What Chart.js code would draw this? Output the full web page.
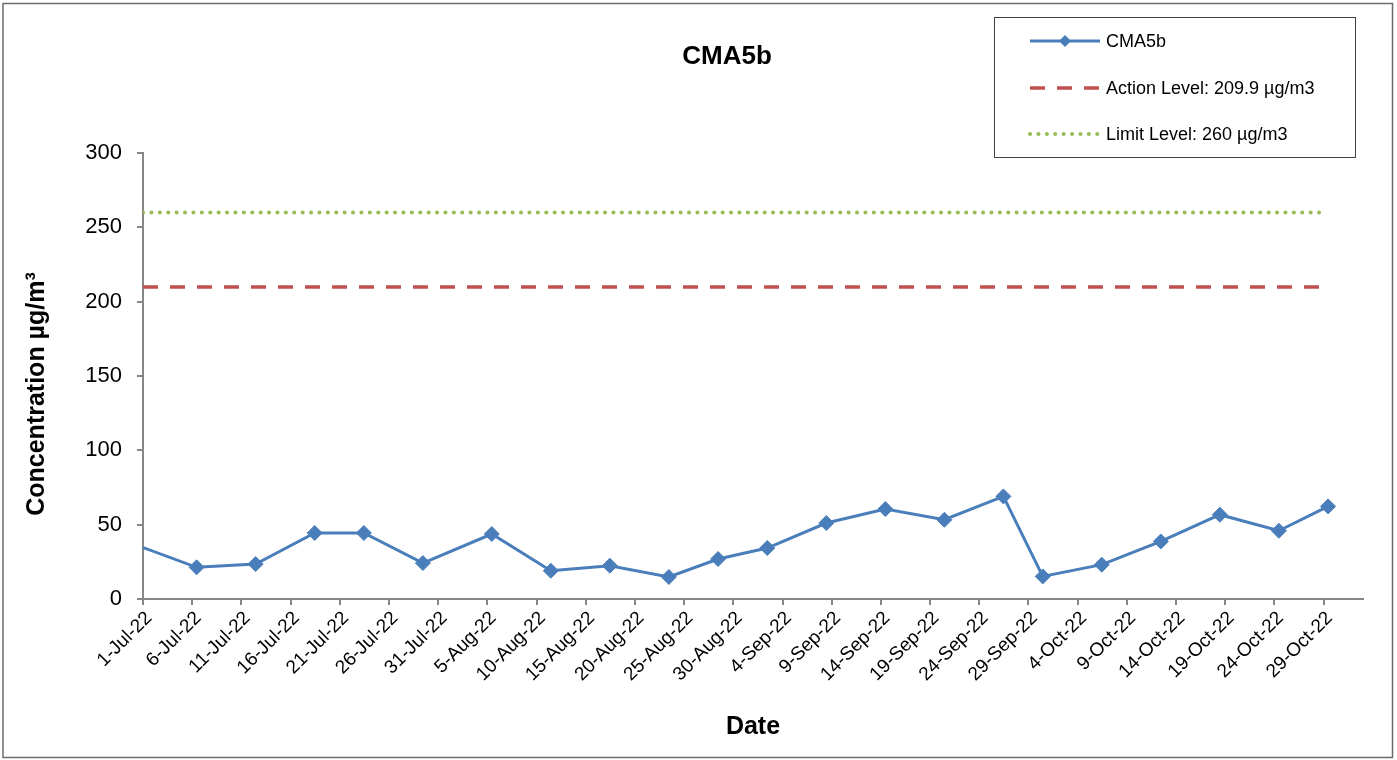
<!DOCTYPE html>
<html>
<head>
<meta charset="utf-8">
<title>CMA5b</title>
<script src="https://cdn.jsdelivr.net/npm/chart.js@4.4.1/dist/chart.umd.min.js"></script>
<style>
  html, body { margin: 0; padding: 0; background: #fff; }
  #wrap { position: relative; width: 1397px; height: 760px; }
</style>
</head>
<body>
<div id="wrap"><canvas id="chart" width="1397" height="760"></canvas></div>
<script>
// sample dates and CMA5b readings (µg/m3)
const sampleDates = [
  '2022-06-30', '2022-07-06', '2022-07-12', '2022-07-18', '2022-07-23', '2022-07-29',
  '2022-08-05', '2022-08-11', '2022-08-17', '2022-08-23', '2022-08-28', '2022-09-02',
  '2022-09-08', '2022-09-14', '2022-09-20', '2022-09-26', '2022-09-30', '2022-10-06',
  '2022-10-12', '2022-10-18', '2022-10-24', '2022-10-29',
]
const cma5bValues = [
  36, 21.3, 23.5, 44.4, 44.4, 24.2,
  43.7, 19.0, 22.4, 14.8, 26.9, 34.3,
  51.1, 60.5, 53.3, 69.0, 15.2, 23.1,
  38.7, 56.7, 45.9, 62.3,
]

// levels
const actionLevel = 209.9
const limitLevel = 260

// axis
const xTickLabels = [
  '1-Jul-22', '6-Jul-22', '11-Jul-22', '16-Jul-22', '21-Jul-22', '26-Jul-22', '31-Jul-22',
  '5-Aug-22', '10-Aug-22', '15-Aug-22', '20-Aug-22', '25-Aug-22', '30-Aug-22',
  '4-Sep-22', '9-Sep-22', '14-Sep-22', '19-Sep-22', '24-Sep-22', '29-Sep-22',
  '4-Oct-22', '9-Oct-22', '14-Oct-22', '19-Oct-22', '24-Oct-22', '29-Oct-22',
]
const axisEndDate = '2022-11-02'
const yTicks = [0, 50, 100, 150, 200, 250, 300]

const seriesNames = ['CMA5b', 'Action Level: 209.9 µg/m3', 'Limit Level: 260 µg/m3']

const FONT = 'Arial, "Liberation Sans", sans-serif'
const MONTHS = { Jan: 0, Feb: 1, Mar: 2, Apr: 3, May: 4, Jun: 5, Jul: 6, Aug: 7, Sep: 8, Oct: 9, Nov: 10, Dec: 11 }
const DAY = 86400000
const startMs = Date.UTC(2022, 6, 1)
// excel date axis puts each point in the middle of its day
const dayCentre = 0.45

const isoDay = (iso) => (Date.parse(iso) - startMs) / DAY
const labelDay = (lbl) => {
  const [d, m, y] = lbl.split('-')
  return (Date.UTC(2000 + Number(y), MONTHS[m], Number(d)) - startMs) / DAY
}

const tickDays = xTickLabels.map(labelDay)
const firstDay = tickDays[0]
const lastDay = tickDays[tickDays.length - 1]

const cmaPoints = sampleDates.map((d, i) => ({ x: isoDay(d) + dayCentre, y: cma5bValues[i] }))
const levelLine = (v) => [{ x: firstDay, y: v }, { x: lastDay, y: v }]

// title, y title, legend box and outer frame
const decorations = {
  id: 'decorations',
  afterDraw(chart) {
    const { ctx } = chart
    ctx.save()

    ctx.strokeStyle = '#6b6b6b'
    ctx.lineWidth = 1.5
    ctx.strokeRect(3, 3.5, 1389.5, 754)

    ctx.fillStyle = '#000'
    ctx.font = `bold 26px ${FONT}`
    ctx.textAlign = 'center'
    ctx.textBaseline = 'middle'
    ctx.fillText('CMA5b', 727, 57)

    ctx.save()
    ctx.translate(37, 394)
    ctx.rotate(-Math.PI / 2)
    ctx.font = `bold 25px ${FONT}`
    ctx.fillText('Concentration µg/m³', 0, 0)
    ctx.restore()

    // legend
    ctx.strokeStyle = '#404040'
    ctx.lineWidth = 1
    ctx.strokeRect(994.5, 17.5, 361, 140)
    const rows = [41, 88, 134]
    chart.data.datasets.forEach((ds, i) => {
      const y = rows[i]
      ctx.save()
      ctx.strokeStyle = ds.borderColor
      ctx.lineWidth = ds.borderWidth
      ctx.lineCap = ds.borderCapStyle || 'butt'
      ctx.setLineDash(ds.borderDash || [])
      ctx.beginPath()
      ctx.moveTo(1030, y)
      ctx.lineTo(1100, y)
      ctx.stroke()
      ctx.restore()
      if (ds.pointStyle === 'rectRot') {
        ctx.fillStyle = ds.pointBackgroundColor
        ctx.beginPath()
        ctx.moveTo(1065 - 6, y)
        ctx.lineTo(1065, y - 6)
        ctx.lineTo(1065 + 6, y)
        ctx.lineTo(1065, y + 6)
        ctx.closePath()
        ctx.fill()
      }
      ctx.fillStyle = '#000'
      ctx.font = `18px ${FONT}`
      ctx.textAlign = 'left'
      ctx.textBaseline = 'middle'
      ctx.fillText(ds.label, 1106, y + 1)
    })
    ctx.restore()
  },
}

const chartData = {
  type: 'line',
  data: {
    datasets: [
      {
        label: seriesNames[0],
        data: cmaPoints,
        borderColor: '#4a7ebb',
        borderWidth: 3,
        pointStyle: 'rectRot',
        pointRadius: (c) => (c.raw && c.raw.x < firstDay ? 0 : 7.5),
        pointBackgroundColor: '#4a7ebb',
        pointBorderColor: '#4a7ebb',
        pointBorderWidth: 1,
        tension: 0,
      },
      {
        label: seriesNames[1],
        data: levelLine(actionLevel),
        borderColor: '#c0504d',
        borderWidth: 3.5,
        borderDash: [15, 12],
        pointRadius: 0,
      },
      {
        label: seriesNames[2],
        data: levelLine(limitLevel),
        borderColor: '#9bbb59',
        borderWidth: 4,
        borderDash: [0.1, 8.3],
        borderCapStyle: 'round',
        pointRadius: 0,
      },
    ],
  },
  options: {
    responsive: false,
    animation: false,
    events: [],
    layout: { padding: { top: 153, right: 34, left: 0, bottom: 0 } },
    scales: {
      x: {
        type: 'linear',
        min: firstDay,
        max: isoDay(axisEndDate),
        afterFit: (scale) => { scale.height = 161 },
        afterBuildTicks: (scale) => { scale.ticks = tickDays.map((v) => ({ value: v })) },
        ticks: {
          autoSkip: false,
          minRotation: 45,
          maxRotation: 45,
          padding: 2,
          labelOffset: 6,
          color: '#000',
          font: { family: FONT, size: 19 },
          callback: (v) => xTickLabels[tickDays.indexOf(v)] || '',
        },
        grid: { drawOnChartArea: false, tickLength: 6, color: '#868686', lineWidth: 2 },
        border: { color: '#868686', width: 2 },
        title: {
          display: true,
          text: 'Date',
          color: '#000',
          font: { family: FONT, size: 25, weight: 'bold' },
          padding: { top: 0, bottom: 18 },
        },
      },
      y: {
        min: yTicks[0],
        max: yTicks[yTicks.length - 1],
        afterFit: (scale) => { scale.width = 143 },
        afterBuildTicks: (scale) => { scale.ticks = yTicks.map((v) => ({ value: v })) },
        ticks: {
          padding: 15,
          color: '#000',
          font: { family: FONT, size: 22 },
        },
        grid: { drawOnChartArea: false, tickLength: 6, color: '#868686', lineWidth: 2 },
        border: { color: '#868686', width: 2 },
      },
    },
    plugins: {
      legend: { display: false },
      tooltip: { enabled: false },
    },
  },
  plugins: [decorations],
}

const chart = new Chart(document.getElementById('chart'), chartData)
</script>
</body>
</html>
